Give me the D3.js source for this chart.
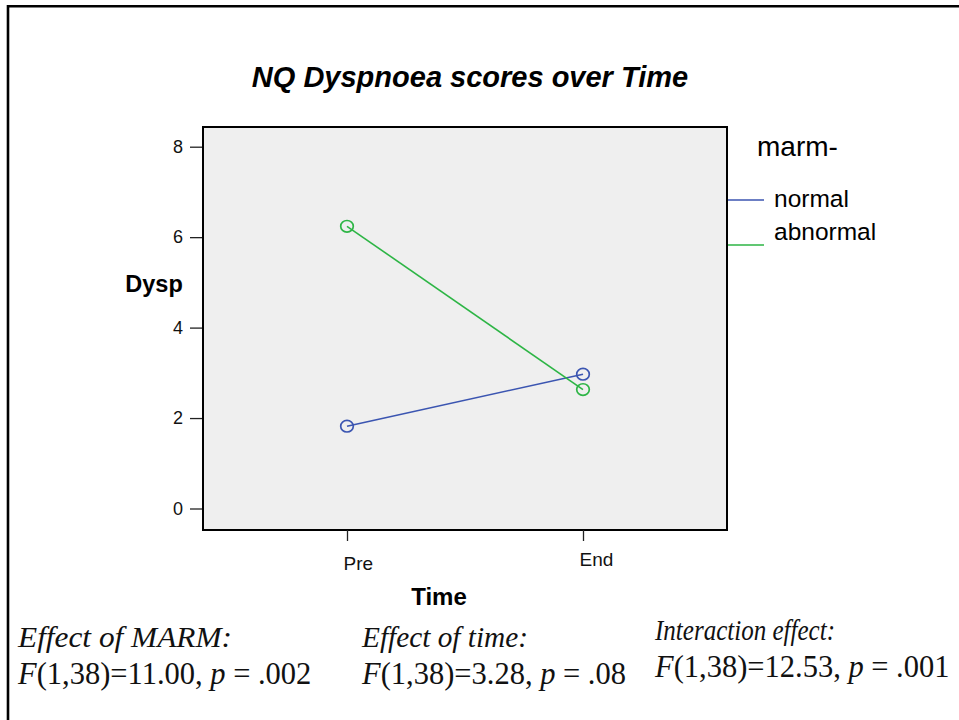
<!DOCTYPE html>
<html>
<head>
<meta charset="utf-8">
<script src="https://cdn.jsdelivr.net/npm/d3@7"></script>
<style>
  html, body { margin: 0; padding: 0; background: #fff; }
  svg { display: block; }
</style>
</head>
<body>
<svg id="chart" width="959" height="720"></svg>
<script>
// Mean NQ dyspnoea score at each time point, by MARM group
const times = ["Pre", "End"];
const normalScores = [1.82, 2.97];
const abnormalScores = [6.24, 2.63];
const groupNames = ["normal", "abnormal"];
const groupColors = ["#3b55b1", "#2db545"];
const yTicks = [0, 2, 4, 6, 8];

// Test statistics printed under the chart
const statTitles = ["Effect of MARM:", "Effect of time:", "Interaction effect:"];
const statF = ["11.00", "3.28", "12.53"];
const statP = [".002", ".08", ".001"];

const svg = d3.select("#chart");
const sans = "'Liberation Sans', Arial, sans-serif";
const serif = "'Liberation Serif', 'Times New Roman', serif";

// page frame (left and top rules)
svg.append("path")
  .attr("d", "M8,720 V6.2 H959")
  .attr("fill", "none").attr("stroke", "#000").attr("stroke-width", 2.6);

// title
svg.append("text")
  .attr("x", 470).attr("y", 87)
  .attr("text-anchor", "middle")
  .attr("font-family", sans).attr("font-size", 29)
  .attr("font-weight", "bold").attr("font-style", "italic")
  .text("NQ Dyspnoea scores over Time");

// plot area
const box = { left: 203, top: 127, right: 727, bottom: 530 };
const y = d3.scaleLinear().domain([0, 8]).range([508.5, 146.7]);
const x = d3.scalePoint().domain(times).range([347, 583]);

svg.append("rect")
  .attr("x", box.left).attr("y", box.top)
  .attr("width", box.right - box.left).attr("height", box.bottom - box.top)
  .attr("fill", "#efefef").attr("stroke", "#000").attr("stroke-width", 2);

// y axis
const yAxis = d3.axisLeft(y).tickValues(yTicks).tickSize(12).tickPadding(7).tickFormat(d3.format("d"));
const gy = svg.append("g").attr("transform", `translate(${box.left - 1},0)`).call(yAxis);
gy.select(".domain").remove();
gy.selectAll(".tick line").attr("stroke", "#222").attr("stroke-width", 1.3);
gy.selectAll(".tick text")
  .attr("font-family", sans).attr("font-size", 18).attr("fill", "#111");

// x axis
const xAxis = d3.axisBottom(x).tickSize(11).tickPadding(0);
const gx = svg.append("g").attr("transform", `translate(0,${box.bottom})`).call(xAxis);
gx.select(".domain").remove();
gx.selectAll(".tick line").attr("stroke", "#222").attr("stroke-width", 1.3);
gx.selectAll(".tick text")
  .attr("font-family", sans).attr("font-size", 19).attr("fill", "#111")
  .attr("text-anchor", "start").attr("x", -4)
  .attr("y", (d, i) => i === 0 ? 40 : 36).attr("dy", 0);

// axis titles
svg.append("text")
  .attr("x", 154).attr("y", 292).attr("text-anchor", "middle")
  .attr("font-family", sans).attr("font-size", 23.5).attr("font-weight", "bold")
  .text("Dysp");
svg.append("text")
  .attr("x", 439).attr("y", 605).attr("text-anchor", "middle")
  .attr("font-family", sans).attr("font-size", 24).attr("font-weight", "bold")
  .text("Time");

// lines and circle markers
const series = [normalScores, abnormalScores];
const line = d3.line().x((d, i) => x(times[i])).y(d => y(d));
series.forEach((vals, k) => {
  svg.append("path")
    .datum(vals)
    .attr("d", line)
    .attr("fill", "none")
    .attr("stroke", groupColors[k]).attr("stroke-width", 1.6);
  svg.selectAll(null)
    .data(vals)
    .enter().append("ellipse")
    .attr("cx", (d, i) => x(times[i]))
    .attr("cy", d => y(d))
    .attr("rx", 6.3).attr("ry", 5.8)
    .attr("fill", "none")
    .attr("stroke", groupColors[k]).attr("stroke-width", 1.7);
});

// legend
svg.append("text")
  .attr("x", 757).attr("y", 156)
  .attr("font-family", sans).attr("font-size", 28)
  .text("marm-");
const legY = [200, 245];
const legTextY = [207, 240];
groupNames.forEach((name, k) => {
  svg.append("line")
    .attr("x1", box.right).attr("x2", 764)
    .attr("y1", legY[k]).attr("y2", legY[k])
    .attr("stroke", groupColors[k]).attr("stroke-width", 1.6);
  svg.append("text")
    .attr("x", 774).attr("y", legTextY[k])
    .attr("font-family", sans).attr("font-size", 24.5)
    .text(name);
});
// box edge runs on past the legend keys
svg.append("line")
  .attr("x1", box.right).attr("x2", box.right)
  .attr("y1", box.top).attr("y2", 270)
  .attr("stroke", "#000").attr("stroke-width", 2);

// test statistics
const colX = [18, 362, 655];
const titleY = [647, 647, 640];
const titleW = [214, 166, 180];
const statY = [684, 684, 677];
statTitles.forEach((t, k) => {
  svg.append("text")
    .attr("x", colX[k]).attr("y", titleY[k])
    .attr("font-family", serif).attr("font-size", 30).attr("font-style", "italic")
    .attr("fill", "#111")
    .attr("textLength", titleW[k]).attr("lengthAdjust", "spacingAndGlyphs")
    .text(t);
  const s = svg.append("text")
    .attr("x", colX[k]).attr("y", statY[k])
    .attr("font-family", serif).attr("font-size", 30.5).attr("fill", "#111");
  s.append("tspan").attr("font-style", "italic").text("F");
  s.append("tspan").text(`(1,38)=${statF[k]}, `);
  s.append("tspan").attr("font-style", "italic").text("p");
  s.append("tspan").text(` = ${statP[k]}`);
});
</script>
</body>
</html>
